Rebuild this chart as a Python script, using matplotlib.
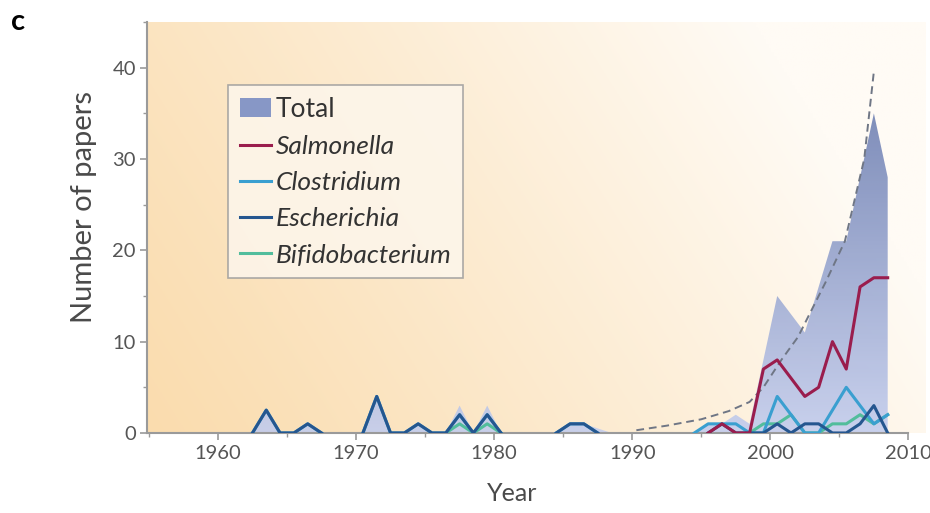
import numpy as np
import matplotlib.pyplot as plt
from matplotlib.colors import LinearSegmentedColormap
from matplotlib.patches import Patch
from matplotlib.lines import Line2D
from matplotlib.ticker import MultipleLocator

plt.rcParams['font.family'] = ['Lato', 'DejaVu Sans']

nan = np.nan

# one value per year, 1962-2008
years = np.arange(1962, 2009)

total = [
    0, 2.5, 0, 0, 1, 0, 0, 0,             # 1962-1969
    0, 4, 0, 0, 1, 0, 0, 3, 0, 3,         # 1970s
    0, 0, 0, 0, 0, 1, 1, 0.5, 0, 0,       # 1980s
    0, 0, 0, 0, 0, 1, 1, 2, 1, 8,         # 1990s
    15, 13, 11, 16, 21, 21, 28, 35, 28,   # 2000-2008
]
salmonella = [
    nan, nan, nan, nan, nan, nan, nan, nan,
    nan, nan, nan, nan, nan, nan, nan, nan, nan, nan,
    nan, nan, nan, nan, nan, nan, nan, nan, nan, nan,
    nan, nan, nan, nan, nan, 0, 1, 0, 0, 7,
    8, 6, 4, 5, 10, 7, 16, 17, 17,
]
clostridium = [
    0, 2.5, 0, 0, 1, 0, nan, nan,
    0, 4, 0, 0, 1, 0, 0, 2, 0, 2,
    0, nan, nan, nan, 0, 1, 1, 0, nan, nan,
    nan, nan, nan, nan, 0, 1, 1, 1, 0, 0,
    4, 2, 0, 0, 2.5, 5, 3, 1, 2,
]
escherichia = [
    0, 2.5, 0, 0, 1, 0, nan, nan,
    0, 4, 0, 0, 1, 0, 0, 2, 0, 2,
    0, nan, nan, nan, 0, 1, 1, 0, nan, nan,
    nan, nan, nan, nan, nan, 0, 1, 0, 0, 0,
    1, 0, 1, 1, 0, 0, 1, 3, 0,
]
bifidobacterium = [
    nan, nan, nan, nan, nan, nan, nan, nan,
    nan, nan, nan, nan, nan, nan, 0, 1, 0, 1,
    0, nan, nan, nan, nan, nan, nan, nan, nan, nan,
    nan, nan, nan, nan, nan, nan, nan, nan, 0, 1,
    1, 2, 0, 0, 1, 1, 2, 1, 2,
]

# dashed trend curve
trend_years = [1990.3, 1992.5, 1995, 1997, 1998.5, 1999.5, 2000.8, 2002, 2003, 2004, 2005.4, 2006.8, 2007.5]
trend_vals = [0.3, 0.8, 1.5, 2.4, 3.4, 5.0, 8.0, 10.5, 13.5, 16.5, 21, 30, 39.6]

xs = years + 0.5  # values sit mid-year

fig = plt.figure(figsize=(9.3, 5.13), dpi=100)
ax = fig.add_axes([0.158, 0.156, 0.8366, 0.801])

# warm background gradient
gx, gy = np.meshgrid(np.linspace(0, 1, 300), np.linspace(0, 1, 200))
t = np.clip(0.9 * gx + 0.3 * gy, 0, 1) ** 1.1
c0 = np.array([250, 220, 174]) / 255
c1 = np.array([255, 251, 245]) / 255
bg = c0 + (c1 - c0) * t[..., None]
ax.imshow(bg, extent=[0, 1, 0, 1], transform=ax.transAxes, origin='lower',
          aspect='auto', zorder=0)

# total as a blue gradient clipped to its outline
poly = ax.fill_between(xs, 0, total, facecolor='none', edgecolor='none')
blues = LinearSegmentedColormap.from_list('tot', ['#c3cdee', '#6f80b2'])
grad = np.linspace(0, 1, 256)[:, None] * np.ones((1, 2))
im = ax.imshow(grad, extent=[1955, 2011, 0, 36], origin='lower', cmap=blues,
               aspect='auto', zorder=2, alpha=0.9)
im.set_clip_path(poly.get_paths()[0], transform=ax.transData)

ax.plot(trend_years, trend_vals, ls=(0, (4, 2.5)), color='#6f7685', lw=1.4, zorder=3)

lw = 2.2
ax.plot(xs, bifidobacterium, color='#52bd9c', lw=lw, zorder=4)
ax.plot(xs, clostridium, color='#3a9fd0', lw=lw, zorder=5)
ax.plot(xs, escherichia, color='#25568f', lw=lw, zorder=6)
ax.plot(xs, salmonella, color='#9a1d4d', lw=lw, zorder=7)

ax.set_xlim(1954.86, 2011.2)
ax.set_ylim(0, 45)

for s in ['top', 'right']:
    ax.spines[s].set_visible(False)
for s in ['left', 'bottom']:
    ax.spines[s].set_color('#9a9a9a')
    ax.spines[s].set_linewidth(1.5)
ax.spines['left'].set_bounds(0, 45)
ax.spines['bottom'].set_bounds(1954.86, 2010)

ax.set_xticks([1960, 1970, 1980, 1990, 2000, 2010])
ax.set_yticks([0, 10, 20, 30, 40])
ax.xaxis.set_minor_locator(MultipleLocator(5))
ax.yaxis.set_minor_locator(MultipleLocator(5))
ax.tick_params(which='both', color='#9a9a9a', labelcolor='#555555', labelsize=14.5)
ax.tick_params(which='major', length=5, width=1.2)
ax.tick_params(which='minor', length=3, width=1)
ax.tick_params(axis='y', pad=3)

ax.set_ylabel('Number of papers', fontsize=21, color='#4a4a4a')
ax.yaxis.set_label_coords(-0.064, 0.55)
ax.set_xlabel('Year', fontsize=18, color='#4a4a4a')
ax.xaxis.set_label_coords(0.47, -0.12)

handles = [
    Patch(facecolor='#8797c6', edgecolor='none'),
    Line2D([], [], color='#9a1d4d', lw=lw),
    Line2D([], [], color='#3a9fd0', lw=lw),
    Line2D([], [], color='#25568f', lw=lw),
    Line2D([], [], color='#52bd9c', lw=lw),
]
labels = ['Total', 'Salmonella', 'Clostridium', 'Escherichia', 'Bifidobacterium']
leg = ax.legend(handles, labels, loc='upper left', bbox_to_anchor=(0.104, 0.847),
                borderaxespad=0, fontsize=19, fancybox=False, edgecolor='#9c9c9c',
                facecolor='#fdf6ec', framealpha=0.85, handlelength=1.2,
                handletextpad=0.15, labelspacing=0.5, borderpad=0.45)
leg.get_frame().set_linewidth(1.2)
for txt in leg.get_texts():
    txt.set_color('#333333')
for txt in leg.get_texts()[1:]:
    txt.set_style('italic')
leg.set_zorder(10)

fig.text(0.012, 0.958, 'c', fontsize=21, fontweight='bold', va='center')

fig.savefig('out.png', dpi=100)
